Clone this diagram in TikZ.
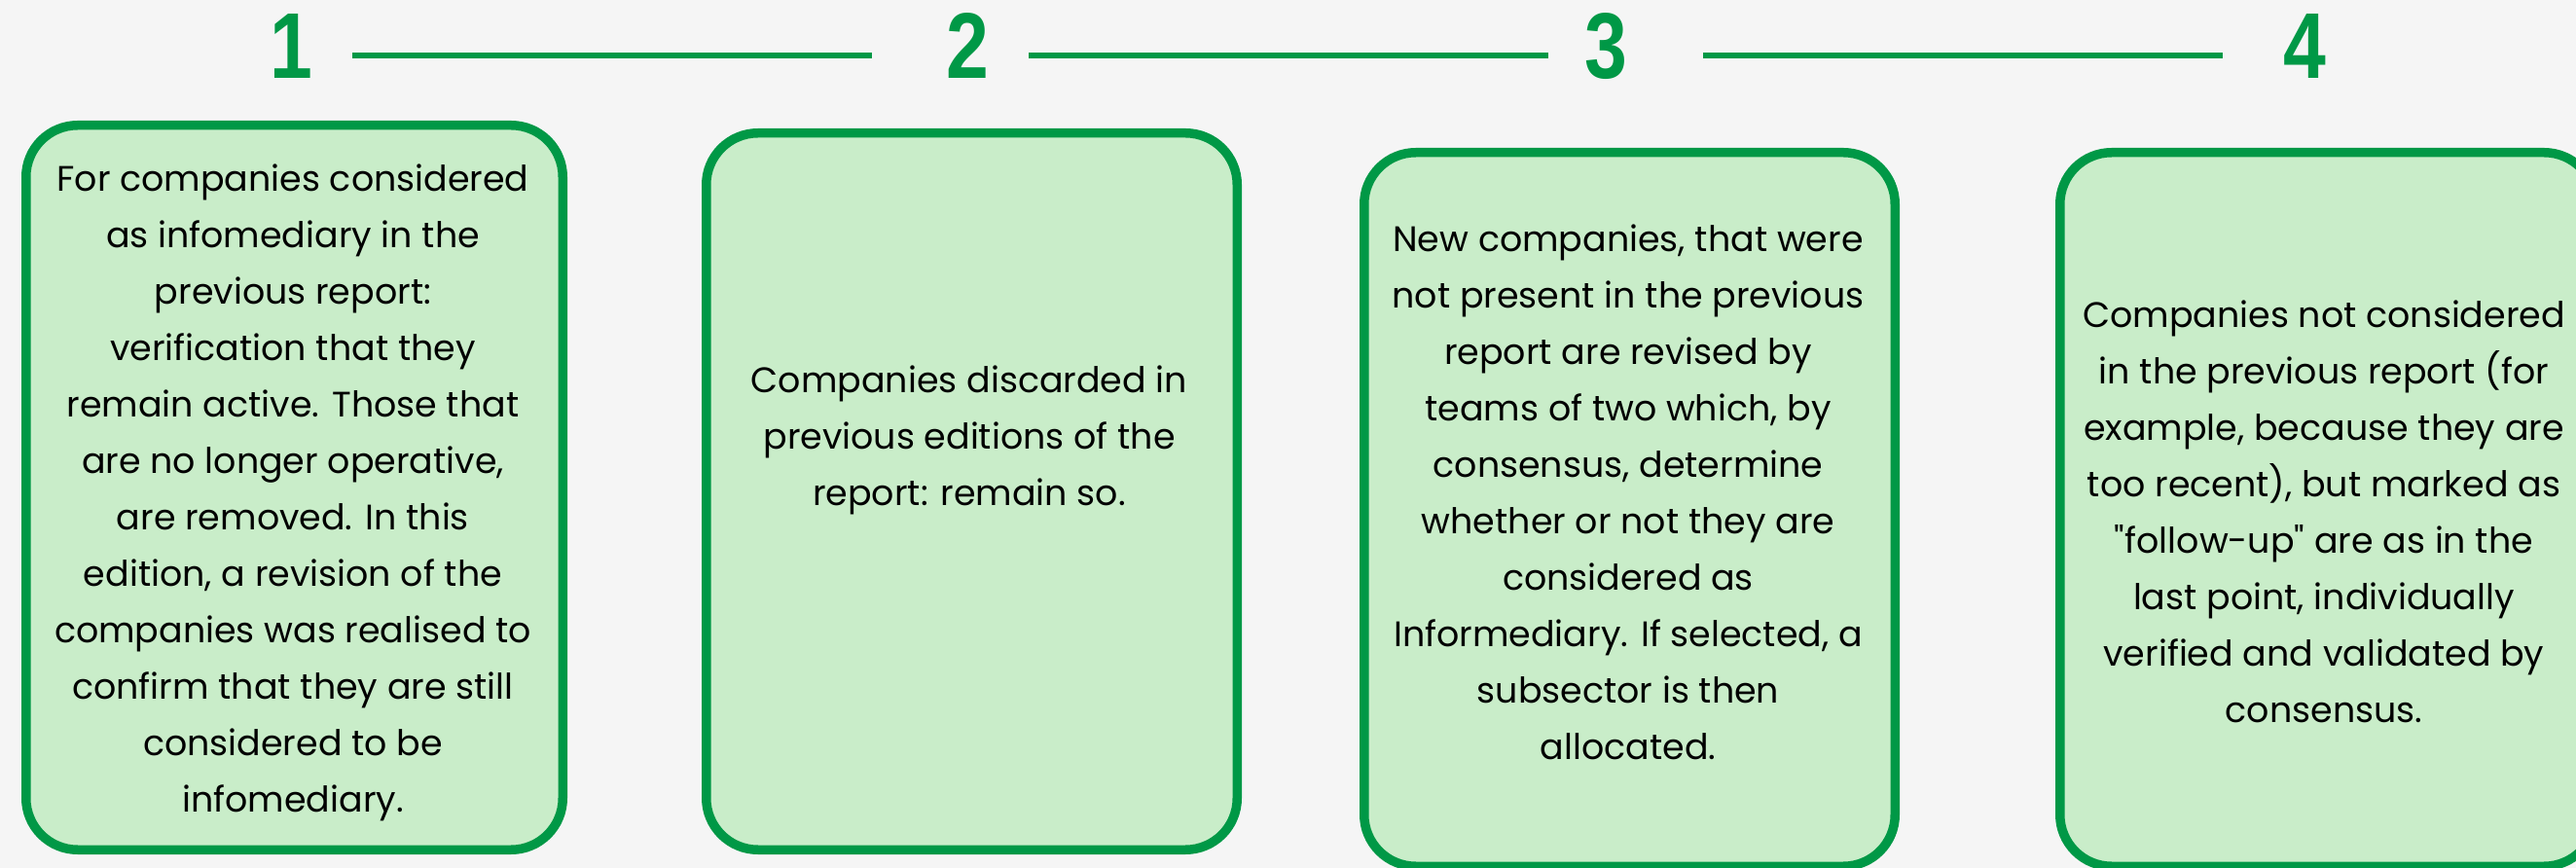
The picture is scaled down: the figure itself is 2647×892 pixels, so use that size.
\documentclass[tikz,border=0pt]{standalone}
\usepackage{fontspec}
\usepackage{graphicx}
\setmainfont{Poppins}[Ligatures=TeXOff]
\newfontfamily\digitfont{Liberation Sans}

\definecolor{stepgreen}{RGB}{0,152,70}
\definecolor{cardfill}{RGB}{201,237,201}
\definecolor{paper}{RGB}{245,245,245}

% condensed step digit
\newcommand\stepdigit[1]{\scalebox{0.82}[1]{#1}}

\tikzset{
  card/.style={draw=stepgreen, fill=cardfill, line width=4.75pt,
    rounded corners=26.5pt, inner sep=0pt, shape=rectangle},
  cardtext/.style={align=center, inner sep=0pt, text=black,
    font=\fontsize{18.2}{29}\selectfont},
  stepnum/.style={anchor=base, inner sep=0pt, text=stepgreen,
    font=\digitfont\bfseries\fontsize{48}{48}\selectfont},
  timeline/.style={draw=stepgreen, line width=3pt}
}

\begin{document}
% one unit = one pixel, y pointing down
\begin{tikzpicture}[x=0.5pt,y=-0.5pt]
  \useasboundingbox (0,0) rectangle (2647,892);
  \clip (0,0) rectangle (2647,892);
  \fill[paper] (0,0) rectangle (2647,892);

  % step numbers
  \node[stepnum] (n1) at (299,81) {\stepdigit{1}};
  \node[stepnum] (n2) at (994.5,81) {\stepdigit{2}};
  \node[stepnum] (n3) at (1650,81) {\stepdigit{3}};
  \node[stepnum] (n4) at (2368.5,81) {\stepdigit{4}};

  % timeline segments between the numbers
  \coordinate (s1a) at (362,57);  \coordinate (s1b) at (896,57);
  \coordinate (s2a) at (1057,57); \coordinate (s2b) at (1591,57);
  \coordinate (s3a) at (1750,57); \coordinate (s3b) at (2284,57);
  \draw[timeline] (s1a) -- (s1b);
  \draw[timeline] (s2a) -- (s2b);
  \draw[timeline] (s3a) -- (s3b);

  % cards
  \node[card, minimum width=275.75pt, minimum height=372.25pt] (card1) at (302.5,501) {};
  \node[card, minimum width=272.75pt, minimum height=368.25pt] (card2) at (998.5,505) {};
  \node[card, minimum width=272.75pt, minimum height=366.75pt] (card3) at (1674.5,523.5) {};
  \node[card, minimum width=275.25pt, minimum height=366.75pt] (card4) at (2392,523.5) {};

  % card texts
  \node[cardtext] (text1) at (301,506) {For companies considered\\
    as infomediary in the\\
    previous report:\\
    verification that they\\
    remain active. Those that\\
    are no longer operative,\\
    are removed. In this\\
    edition, a revision of the\\
    companies was realised to\\
    confirm that they are still\\
    considered to be\\
    infomediary.};

  \node[cardtext] (text2) at (996,452) {Companies discarded in\\
    previous editions of the\\
    report: remain so.};

  \node[cardtext] (text3) at (1673,506) {New companies, that were\\
    not present in the previous\\
    report are revised by\\
    teams of two which, by\\
    consensus, determine\\
    whether or not they are\\
    considered as\\
    Informediary. If selected, a\\
    subsector is then\\
    allocated.};

  \node[cardtext] (text4) at (2388,526) {Companies not considered\\
    in the previous report (for\\
    example, because they are\\
    too recent), but marked as\\
    "follow-up" are as in the\\
    last point, individually\\
    verified and validated by\\
    consensus.};
\end{tikzpicture}
\end{document}
